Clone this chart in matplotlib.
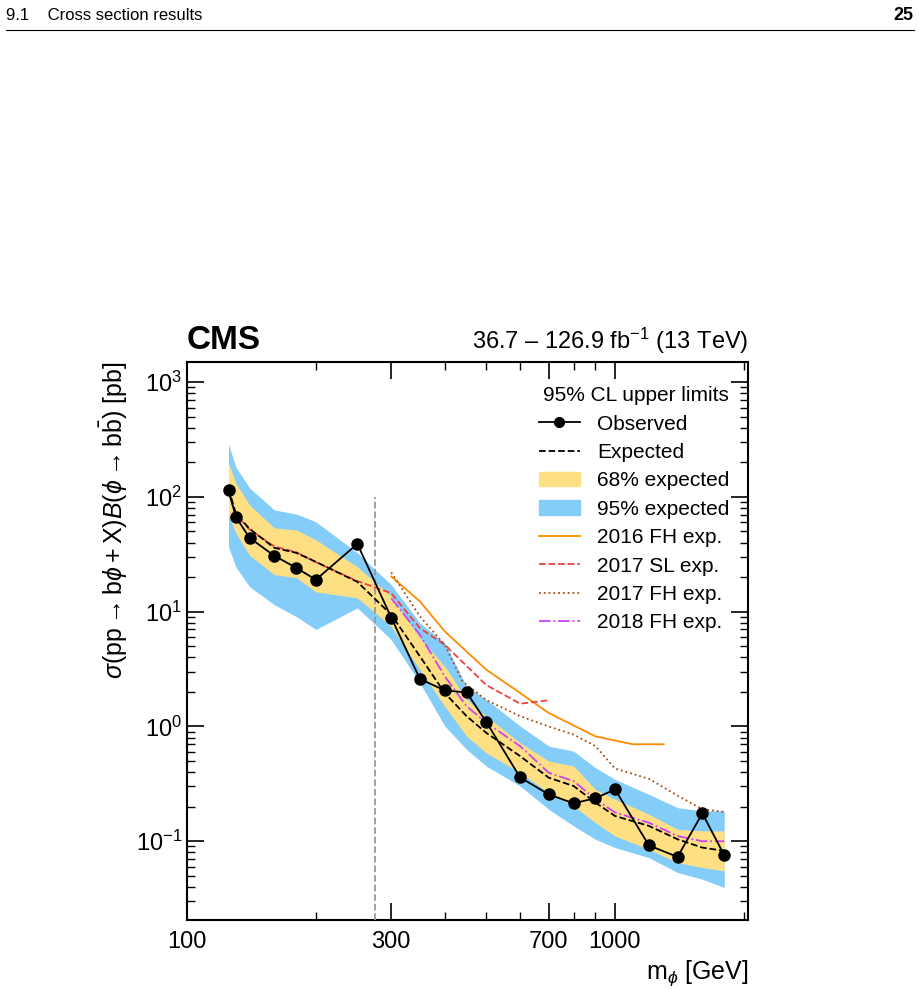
import matplotlib
matplotlib.use("Agg")
import matplotlib.pyplot as plt
from matplotlib.ticker import FixedLocator, NullFormatter, LogLocator
from matplotlib.lines import Line2D
from matplotlib.patches import Patch

plt.rcParams['font.family'] = ['Liberation Sans', 'DejaVu Sans']
plt.rcParams['mathtext.fontset'] = 'custom'
plt.rcParams['mathtext.rm'] = 'Liberation Sans'
plt.rcParams['mathtext.it'] = 'Liberation Sans:italic'
plt.rcParams['mathtext.bf'] = 'Liberation Sans:bold'

mass = [125, 130, 140, 160, 180, 200, 250, 300, 350, 400, 450, 500, 600, 700, 800, 900, 1000, 1200, 1400, 1600, 1800]
observed = [115, 67, 44, 30.7, 24.1, 19, 39, 8.9, 2.6, 2.06, 1.98, 1.1, 0.36, 0.256, 0.214, 0.237, 0.283, 0.092, 0.073, 0.175, 0.0755]
expected = [118, 72, 52.7, 36, 32.6, 27.2, 18.2, 9.42, 4.09, 1.96, 1.23, 0.881, 0.552, 0.358, 0.303, 0.217, 0.166, 0.136, 0.104, 0.088, 0.0824]
band68_up = [198, 132, 85, 53.7, 51.6, 42.3, 24.6, 13.6, 5.90, 3.35, 1.72, 1.23, 0.721, 0.500, 0.452, 0.283, 0.232, 0.172, 0.127, 0.123, 0.123]
band68_lo = [70, 48.6, 31, 21, 19.8, 14.9, 13.2, 7.46, 3.13, 1.50, 0.824, 0.590, 0.395, 0.265, 0.203, 0.145, 0.111, 0.085, 0.0652, 0.059, 0.0552]
band95_up = [289, 182, 120, 77, 71, 60.7, 32.6, 17.2, 7.97, 5.34, 2.24, 1.72, 1.01, 0.675, 0.610, 0.437, 0.346, 0.256, 0.196, 0.184, 0.184]
band95_lo = [36.7, 24.6, 16.5, 11.5, 9.06, 7.0, 10.8, 5.71, 2.40, 1.01, 0.631, 0.452, 0.303, 0.190, 0.136, 0.104, 0.088, 0.072, 0.0534, 0.0467, 0.0395]

fh2016_mass = [300, 350, 400, 500, 600, 700, 900, 1100, 1300]
fh2016_exp = [20.3, 12.3, 6.75, 3.13, 1.96, 1.31, 0.82, 0.70, 0.70]
sl2017_mass = [125, 130, 140, 160, 180, 200, 250, 300, 350, 400, 500, 600, 700]
sl2017_exp = [110, 70, 52, 37, 33, 27, 18.5, 14.5, 7.2, 5.16, 2.3, 1.58, 1.69]
fh2017_mass = [300, 350, 400, 440, 500, 600, 700, 800, 900, 1000, 1200, 1400, 1600, 1800]
fh2017_exp = [22, 9.1, 5.16, 2.48, 1.7, 1.23, 1.0, 0.85, 0.675, 0.43, 0.35, 0.25, 0.19, 0.18]
fh2018_mass = [300, 350, 400, 450, 500, 600, 700, 800, 900, 1000, 1200, 1400, 1600, 1800]
fh2018_exp = [13.1, 6.3, 2.74, 1.50, 1.08, 0.675, 0.395, 0.335, 0.232, 0.178, 0.145, 0.111, 0.10, 0.10]
vline_mass = 275

fig = plt.figure(figsize=(9.2, 9.89), dpi=100)
# page header
fig.text(0.007, 0.984, "9.1    Cross section results", fontsize=12, va='center', ha='left')
fig.text(0.993, 0.984, "25", fontsize=13, fontweight='bold', va='center', ha='right')
fig.add_artist(Line2D([0.007, 0.993], [0.970, 0.970], color='black', lw=0.8))

ax = fig.add_axes([0.2033, 0.0698, 0.6098, 0.5642])
ax.set_xscale('log'); ax.set_yscale('log')
ax.fill_between(mass, band95_lo, band95_up, color='#85cdf9', lw=0, zorder=1)
ax.fill_between(mass, band68_lo, band68_up, color='#fedf84', lw=0, zorder=2)
ax.plot(mass, expected, 'k--', lw=1.3, zorder=4)
ax.plot(fh2016_mass, fh2016_exp, '-', color='#ff8c00', lw=1.3, zorder=3)
ax.plot(sl2017_mass, sl2017_exp, '--', color='#f04040', lw=1.3, zorder=3)
ax.plot(fh2017_mass, fh2017_exp, ':', color='#b04a10', lw=1.3, zorder=3)
ax.plot(fh2018_mass, fh2018_exp, '-.', color='#cc44ee', lw=1.3, zorder=3)
ax.plot(mass, observed, 'k-', marker='o', ms=8, lw=1.3, zorder=5)
ax.plot([vline_mass, vline_mass], [0.0206, 100], '--', color='#999999', lw=1.3, zorder=3)

ax.set_xlim(100, 2046)
ax.set_ylim(0.0206, 1500)
ax.xaxis.set_major_locator(FixedLocator([100, 300, 700, 1000]))
ax.xaxis.set_major_formatter(matplotlib.ticker.FixedFormatter(["100", "300", "700", "1000"]))
ax.xaxis.set_minor_locator(FixedLocator([200, 400, 500, 600, 800, 900, 2000]))
ax.xaxis.set_minor_formatter(NullFormatter())
ax.yaxis.set_major_locator(LogLocator(base=10, numticks=10))
ax.yaxis.set_minor_locator(LogLocator(base=10, subs=range(2, 10), numticks=20))
ax.yaxis.set_minor_formatter(NullFormatter())
ax.tick_params(which='both', direction='in', top=True, right=True, labelsize=17)
ax.tick_params(which='major', length=12, width=1.2)
ax.tick_params(which='minor', length=6, width=1)
ax.tick_params(axis='x', pad=8)
for s in ax.spines.values():
    s.set_linewidth(1.5)

ax.set_xlabel(r"m$_\phi$ [GeV]", fontsize=18, loc='right')
ax.set_ylabel(r"$\sigma(\mathrm{pp}\rightarrow\mathrm{b}\phi+\mathrm{X})\mathit{B}(\phi\rightarrow\mathrm{b}\bar{\mathrm{b}})$ [pb]",
              fontsize=18, loc='top')
ax.text(0.0, 1.01, "CMS", transform=ax.transAxes, fontsize=24, fontweight='bold', ha='left', va='bottom')
ax.text(1.0, 1.01, r"36.7 – 126.9 fb$^{-1}$ (13 TeV)", transform=ax.transAxes, fontsize=17, ha='right', va='bottom')

handles = [
    Line2D([], [], color='k', marker='o', ms=7, lw=1.3),
    Line2D([], [], color='k', ls='--', lw=1.3),
    Patch(color='#fedf84'),
    Patch(color='#85cdf9'),
    Line2D([], [], color='#ff8c00', lw=1.3),
    Line2D([], [], color='#f04040', ls='--', lw=1.3),
    Line2D([], [], color='#b04a10', ls=':', lw=1.3),
    Line2D([], [], color='#cc44ee', ls='-.', lw=1.3),
]
labels = ["Observed", "Expected", "68% expected", "95% expected", "2016 FH exp.", "2017 SL exp.", "2017 FH exp.", "2018 FH exp."]
leg = ax.legend(handles, labels, title="95% CL upper limits", loc='upper right', frameon=False,
                fontsize=15, title_fontsize=15, handlelength=2.0, labelspacing=0.45,
                bbox_to_anchor=(1.0, 0.99))
leg._legend_box.align = "right"

fig.savefig("out.png", dpi=100)
